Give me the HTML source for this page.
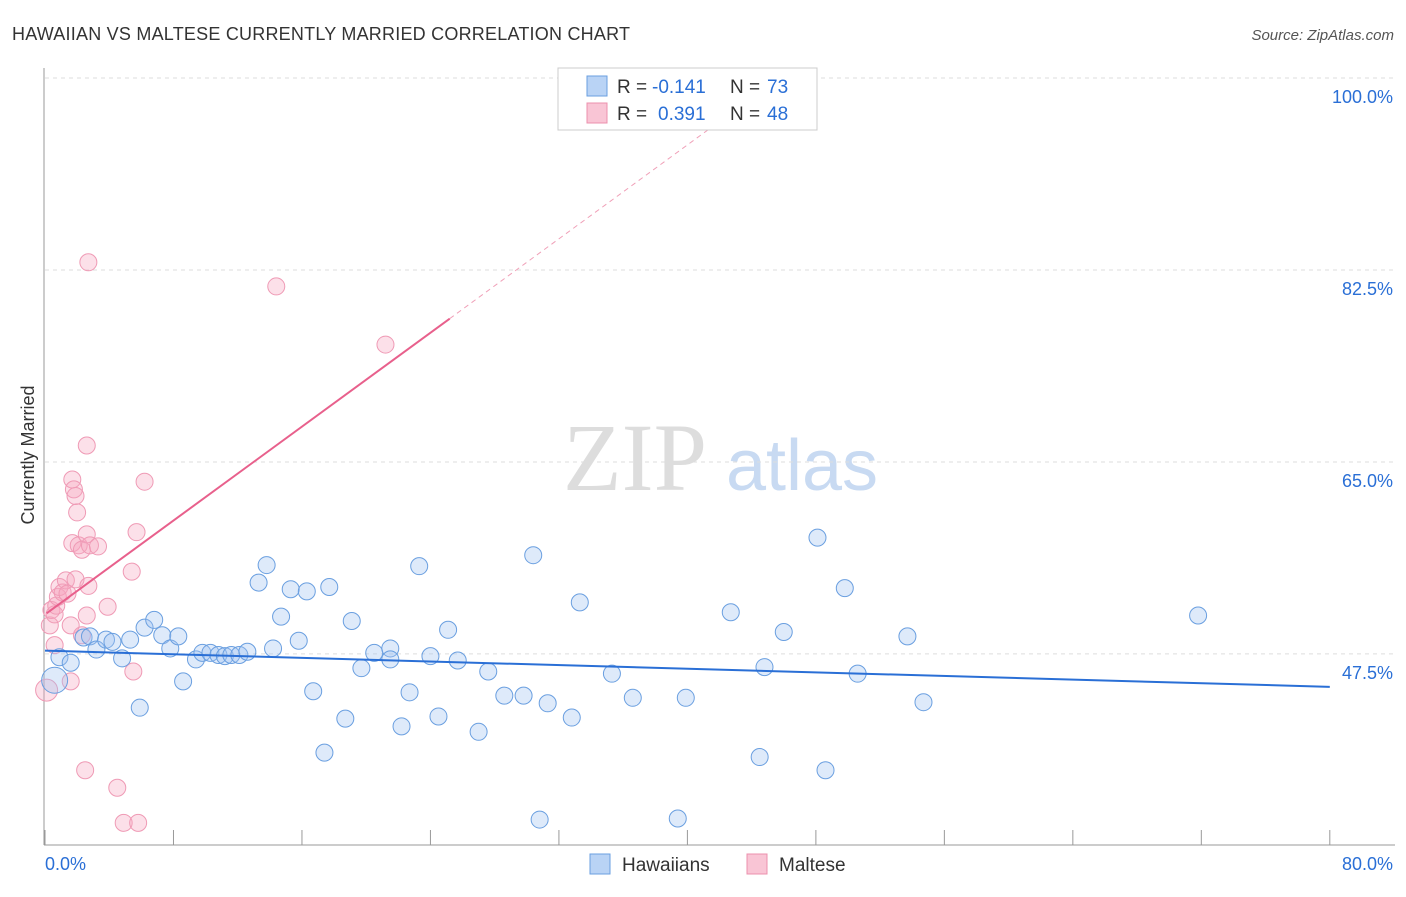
<!DOCTYPE html>
<html><head><meta charset="utf-8"><style>
body{margin:0;background:#fff;font-family:"Liberation Sans",sans-serif}
</style></head><body>
<svg width="1406" height="892" xmlns="http://www.w3.org/2000/svg" id="chart" font-family="Liberation Sans, sans-serif">
<text x="12" y="40" font-size="18" fill="#333" textLength="618">HAWAIIAN VS MALTESE CURRENTLY MARRIED CORRELATION CHART</text>
<text x="1394" y="40" font-size="15" fill="#555" text-anchor="end" font-style="italic">Source: ZipAtlas.com</text>
<text x="34" y="455" font-size="18" fill="#333" text-anchor="middle" transform="rotate(-90 34 455)">Currently Married</text>
<g><text x="635" y="490" font-size="96" fill="#ddd" text-anchor="middle" font-family="Liberation Serif, serif">ZIP</text><text x="802" y="490" font-size="72" fill="#c8daf2" text-anchor="middle">atlas</text></g>
<g id="grid"></g><g id="axes"></g><g id="marks"></g>
<g>
<rect x="558" y="68" width="259" height="62" fill="#fff" stroke="#ccc"/>
<rect x="587" y="76" width="20" height="20" fill="#b9d3f5" stroke="#6a9fe0"/>
<rect x="587" y="103" width="20" height="20" fill="#f9c5d5" stroke="#ec90ad"/>
<text x="617" y="93" font-size="19" fill="#333">R =</text>
<text x="652" y="93" font-size="19" fill="#2a6fd6">-0.141</text>
<text x="730" y="93" font-size="19" fill="#333">N =</text>
<text x="767" y="93" font-size="19" fill="#2a6fd6">73</text>
<text x="617" y="120" font-size="19" fill="#333">R =</text>
<text x="658" y="120" font-size="19" fill="#2a6fd6">0.391</text>
<text x="730" y="120" font-size="19" fill="#333">N =</text>
<text x="767" y="120" font-size="19" fill="#2a6fd6">48</text>
</g>
<g>
<rect x="590" y="854" width="20" height="20" fill="#b9d3f5" stroke="#6a9fe0"/>
<text x="622" y="871" font-size="19" fill="#333">Hawaiians</text>
<rect x="747" y="854" width="20" height="20" fill="#f9c5d5" stroke="#ec90ad"/>
<text x="779" y="871" font-size="19" fill="#333">Maltese</text>
</g>
</svg>
<script>
const yTicks=[100,82.5,65,47.5];
const yTickLabels=["100.0%","82.5%","65.0%","47.5%"];
const xTickLabels=["0.0%","80.0%"];
const hawX=[0.6,0.9,1.6,2.4,2.8,3.2,3.8,4.2,4.8,5.3,5.9,6.2,6.8,7.3,7.8,8.3,8.6,9.4,9.8,10.3,10.8,11.2,11.6,12.1,12.6,13.3,13.8,14.2,14.7,15.3,15.8,16.3,16.7,17.7,18.7,19.1,19.7,17.4,20.5,21.5,21.5,22.2,22.7,23.3,24.0,24.5,25.1,25.7,27.0,27.6,28.6,29.8,30.4,30.8,31.3,32.8,33.3,35.3,36.6,39.4,39.9,42.7,44.5,44.8,46.0,48.1,48.6,49.8,50.6,53.7,54.7,71.8];
const hawY=[45.1,47.2,46.7,49.0,49.1,47.9,48.8,48.6,47.1,48.8,42.6,49.9,50.6,49.2,48.0,49.1,45.0,47.0,47.6,47.6,47.4,47.3,47.4,47.4,47.7,54.0,55.6,48.0,50.9,53.4,48.7,53.2,44.1,53.6,41.6,50.5,46.2,38.5,47.6,48.0,47.0,40.9,44.0,55.5,47.3,41.8,49.7,46.9,40.4,45.9,43.7,43.7,56.5,32.4,43.0,41.7,52.2,45.7,43.5,32.5,43.5,51.3,38.1,46.3,49.5,58.1,36.9,53.5,45.7,49.1,43.1,51.0];
const malX=[0.1,0.3,0.4,0.6,0.7,0.8,0.9,1.1,1.3,1.4,1.6,1.6,1.7,1.8,1.9,2.0,1.7,2.1,2.3,2.6,2.6,2.8,3.3,1.9,2.7,2.6,2.5,2.7,3.9,4.5,4.9,5.4,5.5,5.7,5.8,6.2,14.4,21.2,2.3,0.6];
const malY=[44.2,50.1,51.5,51.1,51.9,52.7,53.6,53.1,54.2,53.0,50.1,45.0,63.4,62.5,61.9,60.4,57.6,57.4,57.0,66.5,58.4,57.4,57.3,54.3,53.7,51.0,36.9,83.2,51.8,35.3,32.1,55.0,45.9,58.6,32.1,63.2,81.0,75.7,49.2,48.3];
const hawTrend=[47.8,44.5];
const malTrend=[51.1,1.07];
const NS="http://www.w3.org/2000/svg";
const X=v=>45+v*16.06, Y=v=>78+(100-v)*10.97;
function mk(t,a,p){const e=document.createElementNS(NS,t);for(const k in a)e.setAttribute(k,a[k]);document.getElementById(p).appendChild(e);return e;}
yTicks.forEach((t,i)=>{
 const l=mk('line',{x1:45,x2:1395,y1:Y(t),y2:Y(t),stroke:'#ddd','stroke-dasharray':'4,4'},'grid');
 
 
 const tx=mk('text',{x:1393,y:Y(t)+25,'font-size':18,fill:'#2a6fd6','text-anchor':'end'},'axes');tx.textContent=yTickLabels[i];
 
 
});
const ya=mk('line',{x1:44,x2:44,y1:68,y2:845,stroke:'#999'},'axes');


const xa=mk('line',{x1:44,x2:1395,y1:845,y2:845,stroke:'#999'},'axes');


for(let i=0;i<=10;i++){const t=mk('line',{x1:X(i*8),x2:X(i*8),y1:830,y2:845,stroke:'#999'},'axes');
 
 }
[[0,'start',45],[80,'end',1393]].forEach((d,i)=>{const t=mk('text',{x:d[2],y:870,'font-size':18,fill:'#2a6fd6','text-anchor':d[1]},'axes');t.textContent=xTickLabels[i];
 
 });
malX.forEach((x,i)=>{const c=mk('circle',{cx:X(x),cy:Y(malY[i]),r:i==0?11:8.5,fill:'rgba(246,166,191,0.35)',stroke:'#ef9ab5','stroke-width':1},'marks');
 
 });
hawX.forEach((x,i)=>{const c=mk('circle',{cx:X(x),cy:Y(hawY[i]),r:i==0?13:8.5,fill:'rgba(160,195,240,0.35)',stroke:'#6a9fe0','stroke-width':1},'marks');
 
 });
const bl=mk('line',{x1:X(0),y1:Y(hawTrend[0]),x2:X(80),y2:Y(hawTrend[1]),stroke:'#2a6fd6','stroke-width':2},'marks');


const pe=(100-malTrend[0])/malTrend[1];
const pl=mk('line',{x1:X(0.1),y1:Y(malTrend[0]+0.1*malTrend[1]),x2:X(25.2),y2:Y(malTrend[0]+25.2*malTrend[1]),stroke:'#e8608c','stroke-width':2},'marks');


const pd=mk('line',{x1:X(25.2),y1:Y(malTrend[0]+25.2*malTrend[1]),x2:X(pe),y2:Y(100),stroke:'#f0a0b8','stroke-width':1,'stroke-dasharray':'5,4'},'marks');


</script>
</body></html>
